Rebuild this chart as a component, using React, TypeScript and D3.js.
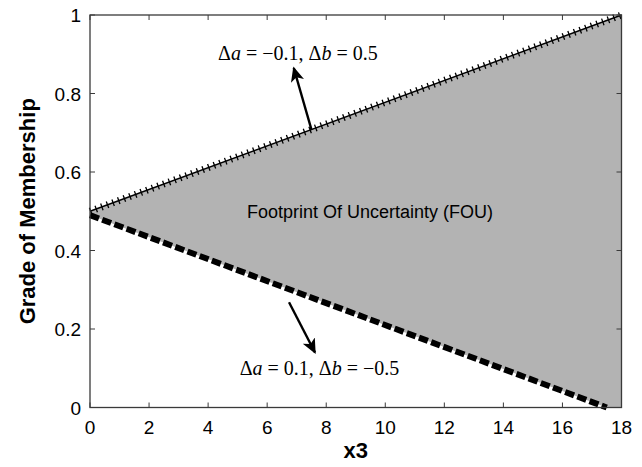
import React from "react";
import * as d3 from "d3";

const width = 642,
  height = 467;
const margin = { top: 15, right: 20.5, bottom: 59.5, left: 90 };

// upper membership bound (drawn with + markers)
const upperX = [0, 18];
const upperY = [0.5, 1];
// lower membership bound (thick dashed)
const lowerX = [0, 17.5];
const lowerY = [0.49, 0];

const xTicks = [0, 2, 4, 6, 8, 10, 12, 14, 16, 18];
const yTicks = [0, 0.2, 0.4, 0.6, 0.8, 1];

// annotations: arrow start / tip and text anchor, in data units
const notes = [
  { from: [7.5, 0.708], to: [6.9, 0.865], at: [7.04, 0.885], da: "\u22120.1", db: "0.5" },
  { from: [6.74, 0.268], to: [7.62, 0.14], at: [7.77, 0.083], da: "0.1", db: "\u22120.5" },
];

const x = d3
  .scaleLinear()
  .domain([0, 18])
  .range([margin.left, width - margin.right]);
const y = d3
  .scaleLinear()
  .domain([0, 1])
  .range([height - margin.bottom, margin.top]);

const upper = upperX.map((d, i) => [d, upperY[i]] as [number, number]);
const lower = lowerX.map((d, i) => [d, lowerY[i]] as [number, number]);

const line = d3
  .line<[number, number]>()
  .x((d) => x(d[0]))
  .y((d) => y(d[1]));

// FOU polygon: upper bound, right edge, then lower bound back
const fou = [...upper, [18, 0] as [number, number], ...lower.slice().reverse()];

const axisColor = "#3a3a3a";
const sans = "'Liberation Sans', Arial, sans-serif";
const serif = "'Liberation Serif', 'Times New Roman', serif";

export default function App() {
  const x0 = x(0),
    x1 = x(18),
    y0 = y(0),
    y1 = y(1);
  return (
    <svg
      width={width}
      height={height}
      style={{ position: "absolute", left: 0, top: 0, background: "#fff" }}
    >
      <defs>
        <marker
          id="head"
          viewBox="0 0 10 10"
          refX="9"
          refY="5"
          markerWidth="15"
          markerHeight="15"
          markerUnits="userSpaceOnUse"
          orient="auto"
        >
          <path d="M0,0.5 L10,5 L0,9.5 L2.5,5 Z" fill="#000" />
        </marker>
      </defs>

      <path d={line(fou) + "Z"} fill="#b3b3b3" stroke="none" />

      {/* upper bound with + markers */}
      <path d={line(upper)!} stroke="#000" strokeWidth={1.4} fill="none" />
      <path
        d={line(upper)!}
        stroke="#000"
        strokeWidth={7}
        strokeDasharray="1.3 4.7"
        fill="none"
      />

      {/* lower bound dashed */}
      <path
        d={line(lower)!}
        stroke="#000"
        strokeWidth={6}
        strokeDasharray="9.5 3.5"
        fill="none"
      />

      {/* axes box */}
      <rect
        x={x0}
        y={y1}
        width={x1 - x0}
        height={y0 - y1}
        fill="none"
        stroke={axisColor}
        strokeWidth={1.3}
      />
      {xTicks.map((t) => (
        <g key={"x" + t}>
          <line x1={x(t)} x2={x(t)} y1={y0} y2={y0 - 5} stroke={axisColor} />
          <line x1={x(t)} x2={x(t)} y1={y1} y2={y1 + 5} stroke={axisColor} />
          <text
            x={x(t)}
            y={y0 + 26}
            textAnchor="middle"
            fontFamily={sans}
            fontSize={19}
          >
            {t}
          </text>
        </g>
      ))}
      {yTicks.map((t) => (
        <g key={"y" + t}>
          <line x1={x0} x2={x0 + 5} y1={y(t)} y2={y(t)} stroke={axisColor} />
          <line x1={x1} x2={x1 - 5} y1={y(t)} y2={y(t)} stroke={axisColor} />
          <text
            x={x0 - 9}
            y={y(t) + 7}
            textAnchor="end"
            fontFamily={sans}
            fontSize={19}
          >
            {t}
          </text>
        </g>
      ))}

      <text
        x={x(9)}
        y={height - 9}
        textAnchor="middle"
        fontFamily={sans}
        fontWeight="bold"
        fontSize={22}
      >
        x3
      </text>
      <text
        transform={`translate(35,${(y0 + y1) / 2}) rotate(-90)`}
        textAnchor="middle"
        fontFamily={sans}
        fontWeight="bold"
        fontSize={22}
      >
        Grade of Membership
      </text>

      <text
        x={x(9.48)}
        y={y(0.483)}
        textAnchor="middle"
        fontFamily={sans}
        fontSize={18}
      >
        Footprint Of Uncertainty (FOU)
      </text>

      {notes.map((n, i) => (
        <g key={"n" + i}>
          <line
            x1={x(n.from[0])}
            y1={y(n.from[1])}
            x2={x(n.to[0])}
            y2={y(n.to[1])}
            stroke="#000"
            strokeWidth={2.4}
            markerEnd="url(#head)"
          />
          <text
            x={x(n.at[0])}
            y={y(n.at[1])}
            textAnchor="middle"
            fontFamily={serif}
            fontSize={20}
          >
            Δ<tspan fontStyle="italic">a</tspan> = {n.da}, Δ
            <tspan fontStyle="italic">b</tspan> = {n.db}
          </text>
        </g>
      ))}
    </svg>
  );
}
